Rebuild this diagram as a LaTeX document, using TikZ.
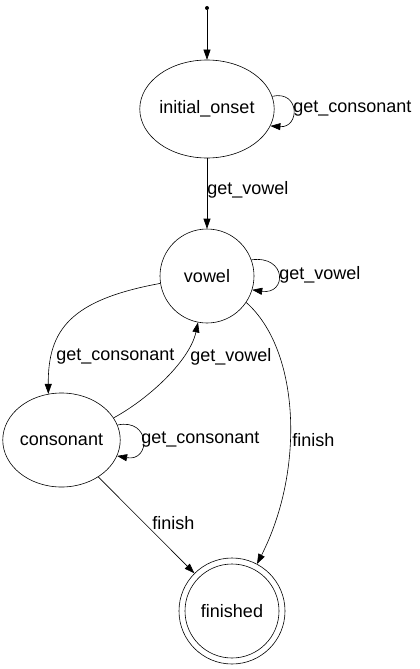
\documentclass[tikz,border=0pt]{standalone}
\usepackage{fontspec}
\setmainfont{Liberation Sans}
\usetikzlibrary{arrows.meta,shapes.geometric}

\begin{document}
\begin{tikzpicture}[x=1pt,y=-1pt,line width=0.6pt,
            every node/.style={font=\fontsize{18}{20}\selectfont},
            state/.style={draw,ellipse,inner sep=0pt},
            trans/.style={draw,-{Triangle[length=10pt,width=7pt]}},
            lbl/.style={anchor=west,inner sep=0pt}
          ]
          \useasboundingbox (0,0) rectangle (420,669);

          \node[circle,fill,inner sep=0pt,minimum size=4pt] (start) at (207,8) {};
          \node[state,minimum width=124pt,minimum height=98pt] (initial_onset) at (207,109) {initial\_onset};
          \node[state,circle,minimum size=94pt] (vowel) at (207,276) {vowel};
          \node[state,minimum width=111pt,minimum height=94pt] (consonant) at (61.5,440) {consonant};
          \node[state,circle,minimum size=106pt] (finished) at (232,611) {finished};
          \draw (finished.center) circle[radius=47];

          \draw[trans] (start) -- (initial_onset);
          \draw[trans] (initial_onset.11) .. controls (300,90) and (300,128) .. (initial_onset.-15);
          \node[lbl] (l_init_loop) at (293,109) {get\_consonant};
          \draw[trans] (initial_onset) -- (vowel);
          \node[lbl] (l_init_vowel) at (207,190) {get\_vowel};
          \draw[trans] (vowel.20) .. controls (287,255) and (287,295) .. (vowel.-17);
          \node[lbl] (l_vowel_loop) at (279,275) {get\_vowel};
          \draw[trans] (vowel.189) .. controls (70,300) and (48,330) .. (consonant.106);
          \node[lbl] (l_vowel_cons) at (56,357) {get\_consonant};
          \draw[trans] (consonant.23) .. controls (150,398) and (190,360) .. (vowel.259);
          \node[lbl] (l_cons_vowel) at (190,357) {get\_vowel};
          \draw[trans] (consonant.15) .. controls (151,418) and (151,462) .. (consonant.-16);
          \node[lbl] (l_cons_loop) at (141,440) {get\_consonant};
          \draw[trans] (consonant) -- (finished);
          \node[lbl] (l_cons_fin) at (152,523) {finish};
          \draw[trans] (vowel.-34) .. controls (300,350) and (305,470) .. (finished.62);
          \node[lbl] (l_vowel_fin) at (292,440) {finish};
          \end{tikzpicture}
\end{document}
